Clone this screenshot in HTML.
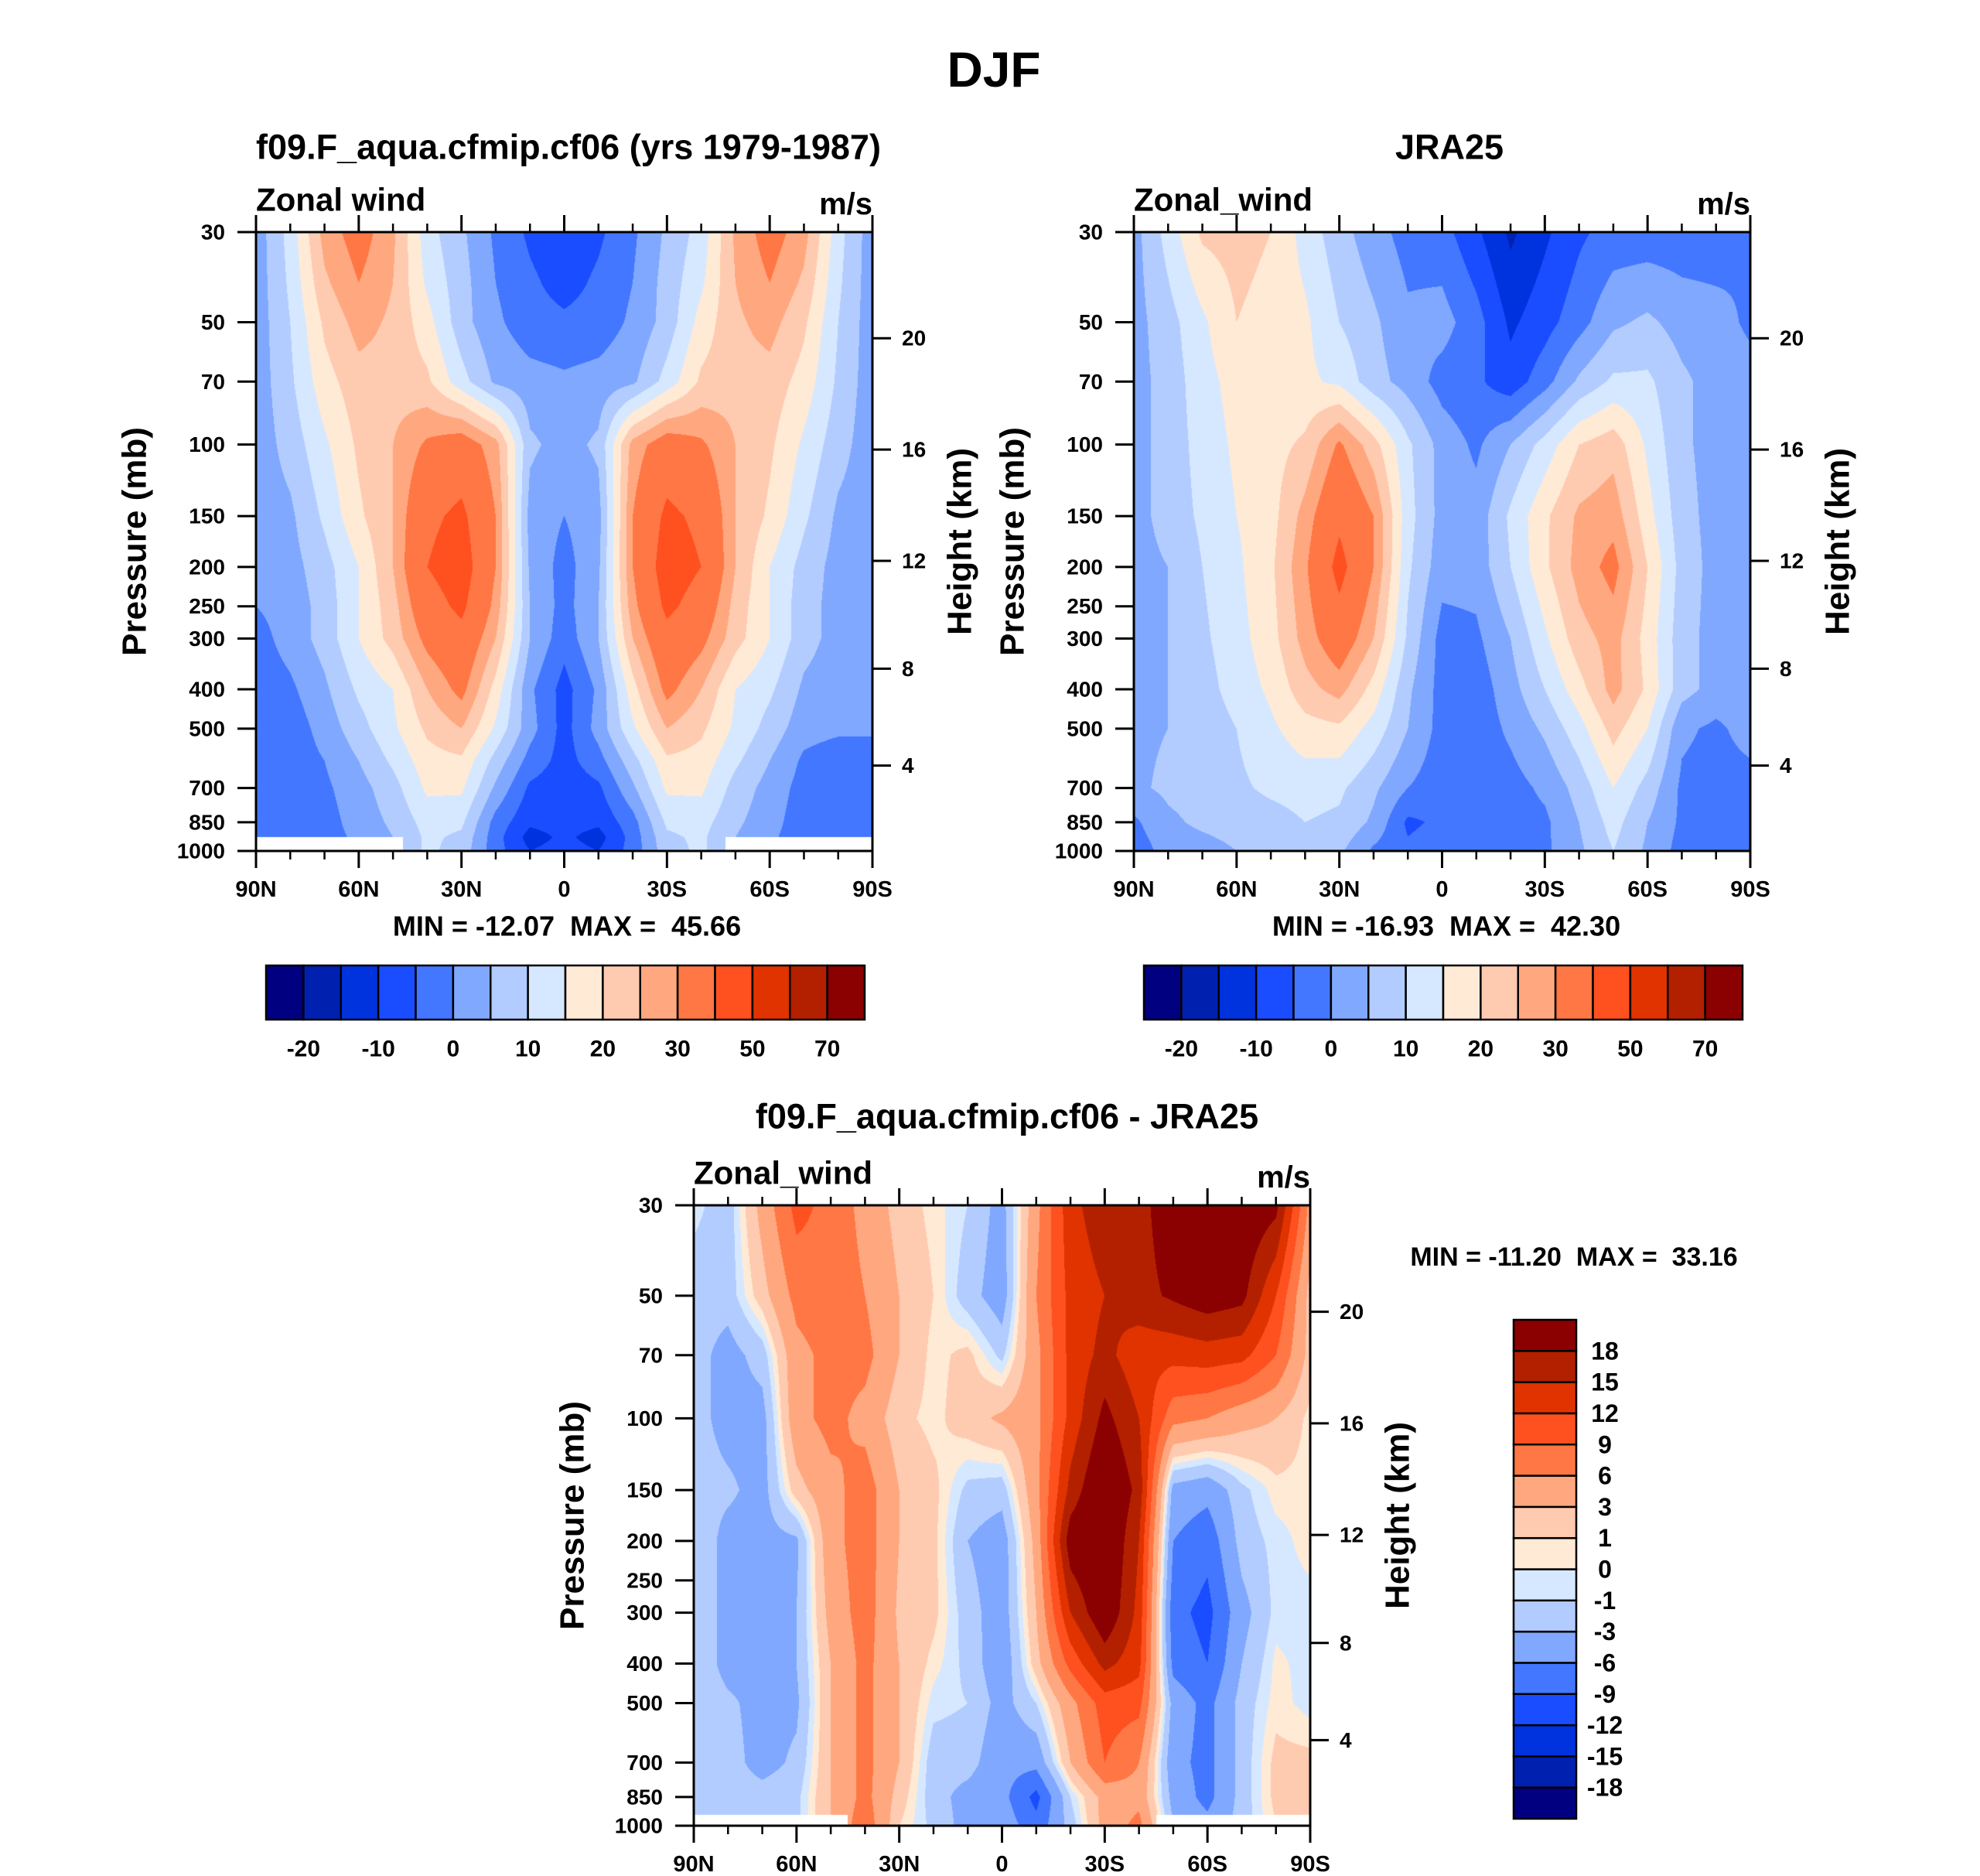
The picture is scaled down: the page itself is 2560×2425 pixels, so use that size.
<!DOCTYPE html>
<html><head><meta charset="utf-8">
<style>
html,body{margin:0;padding:0;background:#fff;}
#root{position:relative;width:2560px;height:2425px;overflow:hidden;background:#fff;font-family:"Liberation Sans",Arial,sans-serif;font-weight:bold;}
canvas{position:absolute;}
svg{position:absolute;left:0;top:0;}
svg text{white-space:pre;}
</style></head>
<body>
<div id="root">
<canvas id="c1" style="left:331px;top:300px" width="797" height="800"></canvas>
<canvas id="c2" style="left:1466px;top:300px" width="797" height="800"></canvas>
<canvas id="c3" style="left:897px;top:1558px" width="797" height="802"></canvas>
<svg id="ov" width="2560" height="2425"></svg>
</div>
<script>
// ---------- data ----------
const lats = [90,80,70,60,50,40,30,20,10,0,-10,-20,-30,-40,-50,-60,-70,-80,-90];
const modelLevels = [30,40,50,70,100,150,200,250,300,400,500,600,700,850,925,1000];
const modelU = [
[2,12,27,33,26,12,6,-1,-6,-9,-6,-1,6,12,26,33,27,12,2],
[2,11,24,30,25,14,7,0,-4,-7,-4,0,7,14,25,30,24,11,2],
[2,10,21,27,24,17,7,1,-3,-4,-3,1,7,17,24,27,21,10,2],
[2,9,18,23,23,21,12,4,2,1,2,4,12,21,23,23,18,9,2],
[2,7,14,21,25,31,34,27,6,3,6,27,34,31,25,21,14,7,2],
[2,4,11,19,25,38,42,30,3,0,3,30,42,38,25,19,11,4,2],
[1,3,8,15,25,40,45,30,4,-2,4,30,45,40,25,15,8,3,1],
[0,2,7,15,23,36,42,28,5,-2,5,28,42,36,23,15,7,3,2],
[-2,2,7,15,22,32,37,25,5,-3,5,25,37,32,22,15,7,3,2],
[-3,-1,4,11,15,25,32,18,1,-7,1,18,32,25,15,11,4,2,1],
[-3,-3,2,8,14,21,25,14,2,-7,2,14,25,21,14,8,2,1,1],
[-3,-3,0,5,11,18,19,8,-2,-7,-2,8,19,18,11,5,-1,-3,-3],
[-3,-3,-1,3,8,16,16,4,-6,-8,-6,4,16,16,8,3,-2,-3,-3],
[-3,-3,-2,2,6,12,11,-2,-9,-8,-9,-2,11,12,6,2,-3,-3,-3],
[-3,-3,-2,1,5,11,9,-3,-12,-9,-12,-3,9,11,5,1,-3,-3,-3],
[-3,-3,-2,1,5,11,8,-3,-10,-8,-10,-3,8,11,5,1,-3,-3,-3]
];
const obsLevels = [30,50,70,100,150,200,300,400,500,700,850,1000];
const obsU = [
[3,12,21,22,20,13,7,2,-2,-3,-9,-16,-11,-6,-3,-3,-3,-3,0],
[3,8,14,20,18,16,10,6,1,2,-3,-11,-7,-2,4,6,3,2,-1],
[3,7,13,17,17,16,14,7,3,-2,-4,-8,-2,6,11,11,6,3,2],
[3,7,12,16,18,21,31,22,11,3,-1,5,12,20,23,14,6,3,2],
[3,7,11,15,18,27,38,30,12,3,2,11,19,26,28,17,7,3,3],
[3,5,10,14,19,29,43,30,11,2,2,10,19,27,32,20,8,3,3],
[3,5,9,13,18,27,35,25,9,-2,-1,5,14,23,27,18,7,3,3],
[3,5,8,12,16,23,27,18,6,-2,-3,3,10,18,27,19,7,3,3],
[4,5,7,10,14,18,19,13,5,-2,-3,1,6,13,22,15,1,-1,2],
[4,6,7,9,11,12,11,6,0,-3,-2,-2,1,7,15,8,-1,-2,-2],
[-1,4,6,7,8,10,9,4,-6,-4,-2,-2,-1,5,12,5,-1,-2,-2],
[-3,2,3,5,6,7,6,-1,-4,-2,-2,-2,-1,4,10,4,-2,-2,-2]
];
const diffLevels = [30,50,70,100,150,200,300,400,500,700,850,1000];
const diffU = [
[-0.5,-2,4,10,8,5,2,0.5,-1,-4,5,14,17,17,20,22,21,19,5],
[-2,-2,2,7,8,6,3,1,-2,-4.5,6,13,15,17,18.5,20,19,12,2],
[-2,-4,-2,5,7,7,3,0.5,1.5,-1.5,5,13,16,13,13,13.5,13,9,2],
[-2,-4,-4,5,7,5,1.5,0.5,2,3.5,5,13,19,15,7,6,4,3,0.5],
[-2,-2.5,-4,2,5,7.5,3,1.5,-1.5,-2,5,16,22,17,-4,-5,-1.5,0.5,0.5],
[-1,-4,-4,-3.5,5,7.5,3,1.5,-3,-4.5,4,20,22,15,-6,-8,-2,-0.5,0.5],
[-1,-4,-4,-3,4,7.5,2.5,1.5,-2,-4.5,3,15,21,14,-8,-10,-4,-0.5,-0.5],
[-1,-4,-4,-3,3,7,3,0.5,-1.5,-5,2,10,16,13,-7,-9,-3,0.3,-0.5],
[-1,-2.5,-4,-3.5,3,7,3,-0.5,-1,-4,-1,5,10.5,10,-4,-7,-2,0.5,-0.5],
[-1,-2,-4,-2.5,3,7,3,-2,-2,-5,-5,3,9,6,-5,-7,-2,1.5,1.5],
[-1,-2,-2,-1.5,3,7,2,-2,-4,-5,-10,-1,4,5,-4,-7,-2,1.5,2],
[-1,-2,-2,-1.5,3,8,1,-1.5,-4,-4,-8,-2,4,7,-3,-5,-2,1,1]
];
const windBounds = [-20,-15,-10,-5,0,5,10,15,20,25,30,40,50,60,70];
const windTickLabels = ["-20","-10","0","10","20","30","50","70"];
const diffBounds = [-18,-15,-12,-9,-6,-3,-1,0,1,3,6,9,12,15,18];
const diffTickLabels = ["-18","-15","-12","-9","-6","-3","-1","0","1","3","6","9","12","15","18"];
const palette = ["#000080","#0020b0","#0033dd","#1a4dff","#4477ff","#80a8ff","#b3ccff","#d6e8ff","#ffead6","#ffcbb0","#ffa880","#ff7744","#ff5020","#e03300","#b32000","#8b0000"];
const pTicks = [30,50,70,100,150,200,250,300,400,500,700,850,1000];
const hTicks = [4,8,12,16,20];
const latMajor = [90,60,30,0,-30,-60,-90];
const latMajorLabels = ["90N","60N","30N","0","30S","60S","90S"];
const latMinor = [80,70,50,40,20,10,-10,-20,-40,-50,-70,-80];

// ---------- helpers ----------
const L0 = Math.log(30), LR = Math.log(1000/30);
function hexRGB(h){return [parseInt(h.substr(1,2),16),parseInt(h.substr(3,2),16),parseInt(h.substr(5,2),16)];}
const palRGB = palette.map(hexRGB);
function sample(levels, grid, lat, lp){
  const fx = (90-lat)/10; let i = Math.min(17, Math.max(0, Math.floor(fx))); const tx = Math.min(1,Math.max(0,fx-i));
  let r = 0; while (r < levels.length-2 && Math.log(levels[r+1]) < lp) r++;
  const a = Math.log(levels[r]), b = Math.log(levels[r+1]); const ty = Math.min(1,Math.max(0,(lp-a)/(b-a)));
  const v0 = grid[r][i]*(1-tx)+grid[r][i+1]*tx, v1 = grid[r+1][i]*(1-tx)+grid[r+1][i+1]*tx;
  return v0*(1-ty)+v1*ty;
}
function drawField(id, levels, grid, bounds, mask){
  const cv = document.getElementById(id), ctx = cv.getContext('2d'); const W = cv.width, H = cv.height;
  const img = ctx.createImageData(W,H);
  for (let y=0;y<H;y++){ const lp = L0 + (y+0.5)/H*LR; const p = Math.exp(lp);
    for (let x=0;x<W;x++){ const lat = 90-(x+0.5)/W*180; let k=(y*W+x)*4;
      if (mask && p>mask.p && Math.abs(lat)>mask.lat){img.data[k]=255;img.data[k+1]=255;img.data[k+2]=255;img.data[k+3]=255;continue;}
      const v = sample(levels,grid,lat,lp); let c=0; while(c<bounds.length && v>=bounds[c]) c++;
      const rgb = palRGB[c]; img.data[k]=rgb[0];img.data[k+1]=rgb[1];img.data[k+2]=rgb[2];img.data[k+3]=255; } }
  ctx.putImageData(img,0,0);
}
drawField('c1', modelLevels, modelU, windBounds, {p:925, lat:47});
drawField('c2', obsLevels, obsU, windBounds, null);
drawField('c3', diffLevels, diffU, diffBounds, {p:940, lat:45});

const NS='http://www.w3.org/2000/svg'; const ov=document.getElementById('ov');
function mk(tag, attrs){const e=document.createElementNS(NS,tag); for(const k in attrs) e.setAttribute(k,attrs[k]); ov.appendChild(e); return e;}
function txt(s,x,y,size,anchor,name,rot){const e=mk('text',{x:x,y:y,'font-size':size,'text-anchor':anchor||'middle','dominant-baseline':'central','font-family':'Liberation Sans, Arial, sans-serif','font-weight':'bold',fill:'#000'});
  if(rot) e.setAttribute('transform','rotate('+rot+' '+x+' '+y+')'); e.textContent=s;
  
  
  return e;}
function stdP(zkm){const z=zkm*1000; if(z<=11000) return 1013.25*Math.pow(1-2.25577e-5*z,5.25588); return 226.32*Math.exp(-(z-11000)/6341.6);}

function axes(P){
  const x0=P.x, y0=P.y, w=P.w, h=P.h;
  const xOf = lat => x0 + w*(90-lat)/180; const yOf = p => y0 + h*Math.log(p/30)/LR;
  const fr = mk('rect',{x:x0,y:y0,width:w,height:h,fill:'none',stroke:'#000','stroke-width':3});
  
  
  pTicks.forEach(p=>{const l=mk('line',{x1:x0-24,x2:x0,y1:yOf(p),y2:yOf(p),stroke:'#000','stroke-width':3});
    
    
    txt(String(p), x0-40, yOf(p), 28, 'end', P.n+'-pressure-tick-label');});
  hTicks.forEach(z=>{const y=yOf(stdP(z)); const l=mk('line',{x1:x0+w,x2:x0+w+24,y1:y,y2:y,stroke:'#000','stroke-width':3});
    
    
    txt(String(z), x0+w+38, y, 28, 'start', P.n+'-height-tick-label');});
  latMajor.forEach((lat,i)=>{const x=xOf(lat);
    [[y0-22,y0],[y0+h,y0+h+22]].forEach(s=>{const l=mk('line',{x1:x,x2:x,y1:s[0],y2:s[1],stroke:'#000','stroke-width':3});
      
      });
    txt(latMajorLabels[i], x, y0+h+50, 29, 'middle', P.n+'-lat-tick-label');});
  latMinor.forEach(lat=>{const x=xOf(lat);
    [[y0-11,y0],[y0+h,y0+h+11]].forEach(s=>{const l=mk('line',{x1:x,x2:x,y1:s[0],y2:s[1],stroke:'#000','stroke-width':2.5});
      
      });});
  txt('Pressure (mb)', x0-157, y0+h/2, 44, 'middle', P.n+'-y-axis-title', -90);
  txt('Height (km)', x0+w+113, y0+h/2, 44, 'middle', P.n+'-right-axis-title', -90);
  txt(P.label, x0, y0-42, 42, 'start', P.n+'-variable-label');
  txt('m/s', x0+w, y0-36, 40, 'end', P.n+'-units-label');
  txt(P.title, P.tx, P.ty, 45, 'middle', P.n+'-title');
}
axes({n:'model',x:331,y:300,w:797,h:800,label:'Zonal wind',title:'f09.F_aqua.cfmip.cf06 (yrs 1979-1987)',tx:735,ty:190});
axes({n:'jra25',x:1466,y:300,w:797,h:800,label:'Zonal_wind',title:'JRA25',tx:1874,ty:190});
axes({n:'diff',x:897,y:1558,w:797,h:802,label:'Zonal_wind',title:'f09.F_aqua.cfmip.cf06 - JRA25',tx:1302,ty:1443});
txt('DJF', 1285, 90, 64, 'middle', 'figure-title');
txt('MIN = -12.07  MAX =  45.66', 733, 1197, 36, 'middle', 'model-min-max');
txt('MIN = -16.93  MAX =  42.30', 1870, 1197, 36, 'middle', 'jra25-min-max');
txt('MIN = -11.20  MAX =  33.16', 2035, 1625, 34, 'middle', 'diff-min-max');

function hbar(x0,y0,w,h,n){
  const bw=w/palette.length;
  palette.forEach((c,i)=>{const r=mk('rect',{x:x0+i*bw,y:y0,width:bw,height:h,fill:c,stroke:'#000','stroke-width':2.5});
    
    });
  windTickLabels.forEach((s,j)=>{txt(s, x0+(2*j+1)*bw, y0+h+38, 30, 'middle', n+'-colorbar-label');});
}
hbar(344,1248,774,70,'model');
hbar(1479,1248,774,70,'jra25');
(function(){const x0=1957,y0=1706,w=81,h=645; const bh=h/palette.length;
  palette.forEach((c,i)=>{const r=mk('rect',{x:x0,y:y0+(palette.length-1-i)*bh,width:w,height:bh,fill:c,stroke:'#000','stroke-width':2.5});
    
    });
  diffTickLabels.forEach((s,j)=>{txt(s, 2075, y0+(palette.length-1-j)*bh, 32, 'middle', 'diff-colorbar-label');});
})();
</script>
</body></html>
